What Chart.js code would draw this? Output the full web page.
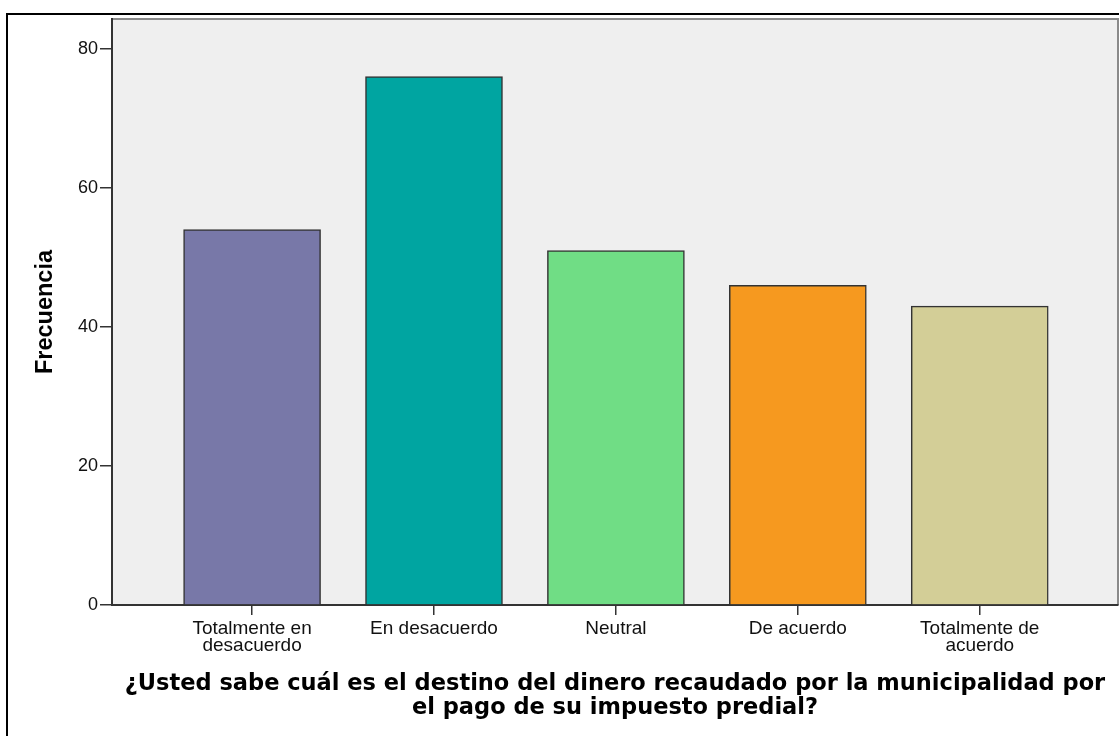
<!DOCTYPE html>
<html>
<head>
<meta charset="utf-8">
<script src="https://cdn.jsdelivr.net/npm/chart.js@4"></script>
<style>
  body { margin: 0; background: #fff; }
  canvas { display: block; }
</style>
</head>
<body>
<canvas id="myChart" width="1119" height="736"></canvas>
<script>
// data
const categories = ["Totalmente en desacuerdo", "En desacuerdo", "Neutral", "De acuerdo", "Totalmente de acuerdo"];
const tickLabels = [["Totalmente en", "desacuerdo"], "En desacuerdo", "Neutral", "De acuerdo", ["Totalmente de", "acuerdo"]];
const frecuencia = [54, 76, 51, 46, 43];
const barColors = ["#7878a8", "#00a5a1", "#70dd85", "#f6991f", "#d3ce97"];
const yTicks = [0, 20, 40, 60, 80];
const xTitle = ["¿Usted sabe cuál es el destino del dinero recaudado por la municipalidad por", "el pago de su impuesto predial?"];
const yTitle = "Frecuencia";

// plot background, frame lines
const framePlugin = {
  id: "frame",
  beforeDraw(chart) {
    const ctx = chart.ctx;
    const a = chart.chartArea;
    ctx.save();
    ctx.fillStyle = "#efefef";
    ctx.fillRect(a.left, a.top, a.right - a.left, a.bottom - a.top);
    ctx.strokeStyle = "#8a8a8a";
    ctx.lineWidth = 2;
    ctx.beginPath();
    ctx.moveTo(a.left, a.top);
    ctx.lineTo(a.right, a.top);
    ctx.lineTo(a.right, a.bottom);
    ctx.stroke();
    // outer black frame
    ctx.strokeStyle = "#000";
    ctx.lineWidth = 2;
    ctx.beginPath();
    ctx.moveTo(7, 736);
    ctx.lineTo(7, 14);
    ctx.lineTo(1119, 14);
    ctx.stroke();
    ctx.restore();
  }
};

const ctx = document.getElementById("myChart").getContext("2d");
const myChart = new Chart(ctx, {
  type: "bar",
  data: {
    labels: categories,
    datasets: [{
      label: yTitle,
      data: frecuencia.map((v, i) => ({ x: i, y: v })),
      backgroundColor: barColors,
      borderColor: "#333",
      borderWidth: 1.5,
      barThickness: 137
    }]
  },
  options: {
    responsive: false,
    animation: false,
    devicePixelRatio: 1,
    layout: { padding: { top: 19, right: 1, left: 0, bottom: 0 } },
    plugins: { legend: { display: false }, tooltip: { enabled: false } },
    scales: {
      x: {
        type: "linear",
        offset: false,
        min: -0.77,
        max: 4.76,
        afterBuildTicks: (axis) => { axis.ticks = categories.map((c, i) => ({ value: i })); },
        afterFit: (s) => { s.height = 131; },
        grid: { display: true, offset: false, drawOnChartArea: false, drawTicks: true, tickLength: 10, color: "#333", lineWidth: 1.5 },
        border: { display: true, color: "#333", width: 2 },
        ticks: {
          autoSkip: false,
          maxRotation: 0,
          padding: 5,
          color: "#111",
          font: { family: "'Liberation Sans', Arial, sans-serif", size: 19, lineHeight: 0.9 },
          callback: (v) => tickLabels[v]
        },
        title: {
          display: true,
          text: xTitle,
          color: "#000",
          padding: { top: 0, bottom: 16.25 },
          font: { family: "'DejaVu Sans', Verdana, sans-serif", size: 22.5, weight: "bold", lineHeight: 1.045 }
        }
      },
      y: {
        min: 0,
        max: 84.3,
        afterBuildTicks: (axis) => { axis.ticks = yTicks.map(v => ({ value: v })); },
        afterFit: (s) => { s.width = 112; },
        grid: { display: true, drawOnChartArea: false, drawTicks: true, tickLength: 12, color: "#333", lineWidth: 1.5 },
        border: { display: true, color: "#333", width: 2 },
        ticks: {
          padding: 2,
          color: "#111",
          font: { family: "'Liberation Sans', Arial, sans-serif", size: 18 }
        },
        title: {
          display: true,
          text: yTitle,
          color: "#000",
          padding: { top: 31, bottom: 0 },
          font: { family: "'Liberation Sans', Arial, sans-serif", size: 23.5, weight: "bold" }
        }
      }
    }
  },
  plugins: [framePlugin]
});
</script>
</body>
</html>
